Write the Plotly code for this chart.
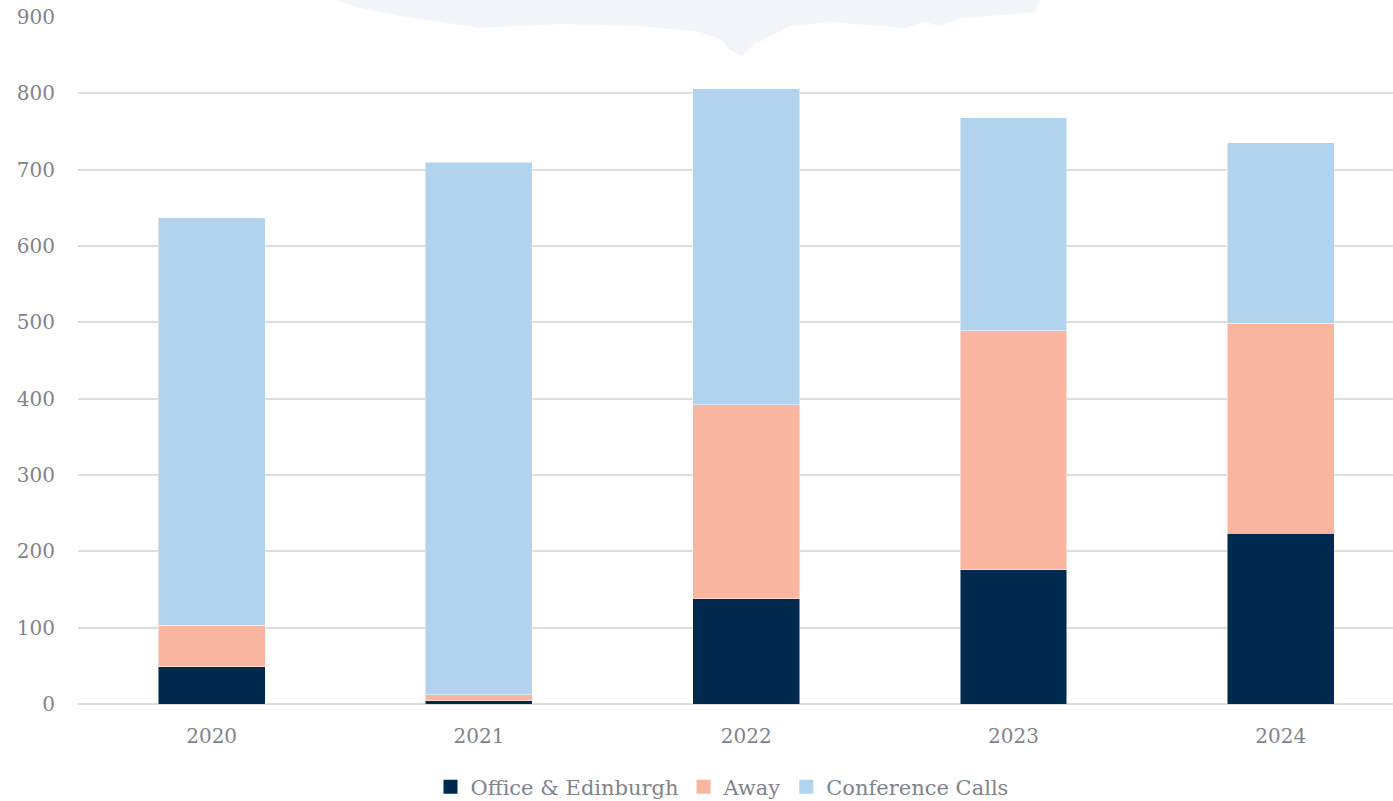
import plotly.graph_objects as go

years = ["2020", "2021", "2022", "2023", "2024"]
office = [49, 4, 138, 176, 224]
away = [54, 8, 254, 313, 275]
conference = [534, 698, 414, 279, 236]

series_names = ["Office & Edinburgh", "Away", "Conference Calls"]
colors = ["#002A4D", "#F9B5A0", "#B1D3EE"]

W, H = 1393, 801
L, R, T, B = 78, 0, 17, 97
font_family = "DejaVu Serif, Liberation Serif, serif"
text_color = "#7F838B"

fig = go.Figure()
for name, vals, col in zip(series_names, [office, away, conference], colors):
    fig.add_trace(go.Bar(
        x=years, y=vals, name=name, showlegend=False,
        marker=dict(color=col, line=dict(color="rgba(255,255,255,0.6)", width=0.8)),
        width=0.4,
    ))
# legend proxies with larger square symbols
for name, col in zip(series_names, colors):
    fig.add_trace(go.Scatter(
        x=[None], y=[None], mode="markers", name=name,
        marker=dict(symbol="square", size=14, color=col),
    ))

# decorative watercolor splash at top (paper coords)
def px2paper(x, y):
    return (x - L) / (W - L - R), (H - B - y) / (H - T - B)

blob_px = [(335, 0), (1040, 0), (1035, 12), (990, 16), (960, 18), (940, 26), (925, 22),
           (905, 28), (880, 26), (830, 22), (790, 26), (770, 36), (755, 44), (742, 56),
           (730, 50), (722, 40), (700, 32), (640, 26), (560, 24), (480, 28), (440, 22),
           (400, 16), (360, 8)]
pts = [px2paper(x, y) for x, y in blob_px]
path = "M " + " L ".join(f"{a:.4f},{b:.4f}" for a, b in pts) + " Z"
fig.add_shape(type="path", path=path, xref="paper", yref="paper",
              fillcolor="rgba(230,237,244,0.55)", line=dict(width=0), layer="below")

fig.update_layout(
    barmode="stack",
    width=W, height=H,
    margin=dict(l=L, r=R, t=T, b=B, pad=0, autoexpand=False),
    paper_bgcolor="white", plot_bgcolor="white",
    font=dict(family=font_family, color=text_color, size=20),
    bargap=0.6,
    legend=dict(orientation="h", xref="container", yref="container",
                x=722 / W, xanchor="center", y=1 - 787 / H, yanchor="middle",
                font=dict(size=21, color=text_color), traceorder="normal",
                itemwidth=30, tracegroupgap=0),
    showlegend=True,
)
fig.update_xaxes(
    type="category", range=[-0.5, 4.42],
    showgrid=False, showline=False, ticks="",
    tickfont=dict(size=20, color=text_color),
    ticklabelstandoff=18,
)
fig.update_yaxes(
    range=[0, 900], tickvals=list(range(0, 901, 100)),
    showgrid=True, gridcolor="#DCDCDC", gridwidth=1.6,
    zeroline=True, zerolinecolor="#DCDCDC", zerolinewidth=1.6,
    showline=False, ticks="",
    tickfont=dict(size=20, color=text_color),
    ticklabelstandoff=22,
)

fig.write_html("out.html")
